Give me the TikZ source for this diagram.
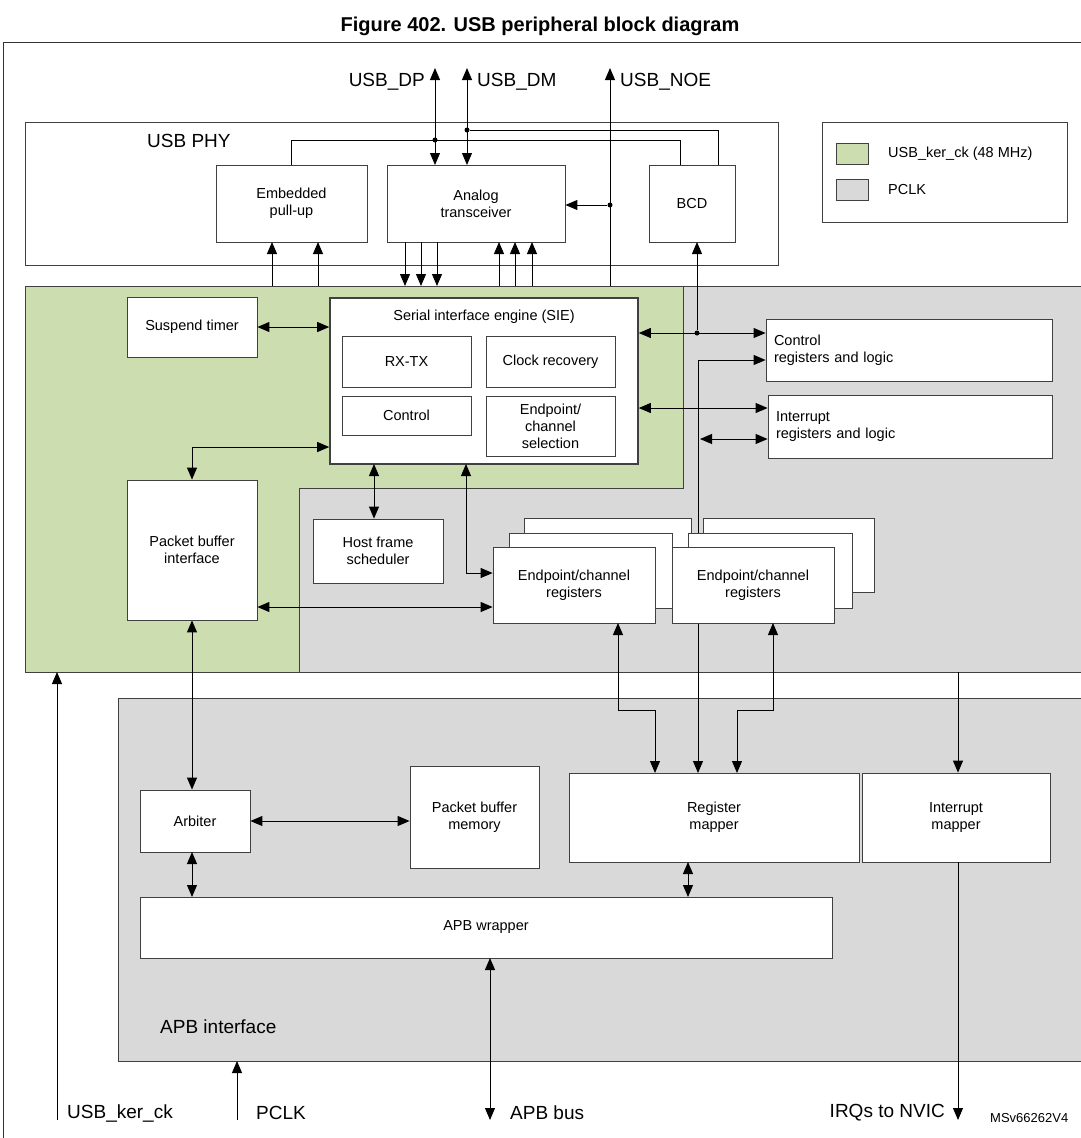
\documentclass[tikz,border=0pt]{standalone}
\usepackage{fontspec}
\setmainfont{Liberation Sans}
\usetikzlibrary{arrows.meta}
\definecolor{gr}{RGB}{204,221,176}
\definecolor{gy}{RGB}{217,217,217}
\begin{document}
\begin{tikzpicture}[x=1pt,y=-1pt,
 box/.style={draw=black!75,fill=white,line width=0.8pt,inner sep=0,font=\fontsize{14.5}{17}\selectfont,align=center},
 lbl/.style={font=\fontsize{19}{21}\selectfont,inner sep=0},
 ln/.style={line width=0.9pt},
 a/.style={ln,-{Triangle[length=12pt,width=10pt]}},
 ab/.style={ln,{Triangle[length=12pt,width=10pt]}-{Triangle[length=12pt,width=10pt]}},
 dot/.style={circle,fill=black,inner sep=0,minimum size=5pt}]
\useasboundingbox (0,0) rectangle (1081,1138);
\node[font=\bfseries\fontsize{20}{22}\selectfont] (title) at (540,26) {Figure 402. USB peripheral block diagram};
\draw[black!80,line width=0.8pt] (3,1138) -- (3,42) -- (1081,42);
% USB PHY
\node[box,minimum width=753,minimum height=143] (phy) at (401.5,193.5) {};
\node[lbl,anchor=west] (phyl) at (147,141) {USB PHY};
\node[box,minimum width=151,minimum height=77] (pu) at (291.5,203.5) {Embedded\\pull-up};
\node[box,minimum width=178,minimum height=77] (at) at (476,203.5) {Analog\\transceiver};
\node[box,minimum width=86,minimum height=77] (bcd) at (692,203.5) {BCD};
% legend
\node[box,minimum width=245,minimum height=100] (leg) at (944.5,172) {};
\node[draw=black!75,fill=gr,minimum width=32,minimum height=21,inner sep=0] (lg1) at (852,154) {};
\node[draw=black!75,fill=gy,minimum width=32,minimum height=21,inner sep=0] (lg2) at (852,190) {};
\node[anchor=west,font=\fontsize{14.5}{17}\selectfont,inner sep=0] (lt1) at (888,154) {USB\_ker\_ck (48 MHz)};
\node[anchor=west,font=\fontsize{14.5}{17}\selectfont,inner sep=0] (lt2) at (888,190) {PCLK};
% regions
\draw[black!75,fill=gy,line width=0.8pt] (25,286) rectangle (1085,672);
\draw[black!75,fill=gr,line width=0.8pt] (25,286) -- (683,286) -- (683,488) -- (299,488) -- (299,672) -- (25,672) -- cycle;
\draw[black!75,fill=gy,line width=0.8pt] (118,698) rectangle (1085,1061);
\node[lbl,anchor=west] (apbl) at (160,1027) {APB interface};
% upper blocks
\node[box,minimum width=130,minimum height=60] (sus) at (192,327) {Suspend timer};
\node[box,line width=1.6pt,minimum width=308,minimum height=166] (sie) at (484,381) {};
\node[font=\fontsize{14.5}{17}\selectfont,inner sep=0] (siel) at (484,317) {Serial interface engine (SIE)};
\node[box,minimum width=129,minimum height=51] (rx) at (406.5,361.5) {RX-TX};
\node[box,minimum width=129,minimum height=51] (clk) at (550.5,361.5) {Clock recovery};
\node[box,minimum width=129,minimum height=39] (ctl) at (406.5,415.5) {Control};
\node[box,minimum width=129,minimum height=60] (eps) at (550.5,426) {Endpoint/\\channel\\selection};
\node[box,minimum width=286,minimum height=62,align=left,text width=270] (creg) at (909,350) {Control\\registers and logic};
\node[box,minimum width=284,minimum height=63,align=left,text width=268] (ireg) at (910,426.5) {Interrupt\\registers and logic};
\node[box,minimum width=130,minimum height=140] (pbi) at (192,550) {Packet buffer\\interface};
\node[box,minimum width=130,minimum height=64] (hfs) at (378,551) {Host frame\\scheduler};
\draw[ab] (creg.west|-0,360) -- (698,360) -- (698,773);
\draw[black!75,fill=white,line width=0.8pt] (524,518) rectangle (691,592);
\draw[black!75,fill=white,line width=0.8pt] (509,533) rectangle (672,608);
\node[box,minimum width=162,minimum height=76] (ep1) at (574,585) {Endpoint/channel\\registers};
\draw[black!75,fill=white,line width=0.8pt] (703,518) rectangle (874,592);
\draw[black!75,fill=white,line width=0.8pt] (688,533) rectangle (852,608);
\node[box,minimum width=162,minimum height=76] (ep2) at (753,585) {Endpoint/channel\\registers};
% lower blocks
\node[box,minimum width=110,minimum height=62] (arb) at (195,821) {Arbiter};
\node[box,minimum width=129,minimum height=102] (pbm) at (474.5,817) {Packet buffer\\memory};
\node[box,minimum width=290,minimum height=89] (rm) at (714,817.5) {Register\\mapper};
\node[box,minimum width=188,minimum height=89] (im) at (956,817.5) {Interrupt\\mapper};
\node[box,minimum width=692,minimum height=61] (apb) at (486,927.5) {APB wrapper};
% external labels
\coordinate (dpT) at (435,68); \coordinate (dmT) at (467,68); \coordinate (noeT) at (610,68);
\node[lbl,anchor=east] (dpl) at (425,82) {USB\_DP};
\node[lbl,anchor=west] (dml) at (477,82) {USB\_DM};
\node[lbl,anchor=west] (noel) at (620,82) {USB\_NOE};
\node[lbl,anchor=west] (kl) at (67,1113) {USB\_ker\_ck};
\node[lbl,anchor=west] (pl) at (256,1113) {PCLK};
\node[lbl,anchor=west] (bl) at (510,1113) {APB bus};
\node[lbl,anchor=east] (irql) at (945,1113) {IRQs to NVIC};
\node[anchor=west,font=\fontsize{13}{15}\selectfont,inner sep=0] (ms) at (990,1118) {MSv66262V4};
\coordinate (kb) at (57,1120); \coordinate (pb) at (237,1120); \coordinate (bb) at (490,1120); \coordinate (ib) at (958,1120);
% PHY connections
\draw[ab] (dpT) -- (435,165);
\draw[ab] (dmT) -- (467,165);
\node[dot] (d1) at (435,140) {}; \node[dot] (d2) at (467,130) {};
\draw[ln] (291,165) -- (291,140) -- (680,140) -- (680,165);
\draw[ln] (d2) -- (718,130) -- (718,165);
\draw[a] (610,286) -- (noeT);
\node[dot] (d3) at (610,205) {};
\draw[a] (d3) -- (at.east|-d3);
\foreach \x in {272,318} \draw[a] (\x,286) -- (\x,242);
\foreach \x in {405,421,437} \draw[a] (\x,242) -- (\x,286);
\foreach \x in {499,515,532} \draw[a] (\x,286) -- (\x,242);
\node[dot] (d4) at (697,333) {};
\draw[a] (d4) -- (697,242);
\draw[ab] (sie.east|-d4) -- (creg.west|-d4);
\draw[ab] (sie.east|-0,408) -- (ireg.west|-0,408);
\draw[ab] (700,439) -- (ireg.west|-0,439);
\draw[ab] (sus.east) -- (sie.west|-sus.east);
\draw[ab] (sie.west|-0,447) -- (192,447) -- (pbi.north);
\draw[ab] (374,464) -- (hfs.north-|374,0);
\draw[ab] (466,464) -- (466,573) -- (ep1.west|-0,573);
\draw[ab] (pbi.east|-0,607) -- (ep1.west|-0,607);
\draw[ab] (pbi.south) -- (arb.north-|pbi.south);
\draw[ab] (arb.east) -- (pbm.west|-arb.east);
\draw[ab] (192,852) -- (192,897);
\draw[ab] (688,862) -- (688,897);
\draw[ab] (490,958) -- (bb);
\draw[ab] (618,623) -- (618,710) -- (655,710) -- (655,773);
\draw[ab] (773,623) -- (773,710) -- (737,710) -- (737,773);
\draw[a] (958,672) -- (im.north-|958,0);
\draw[a] (im.south-|958,0) -- (ib);
\draw[a] (kb) -- (57,672);
\draw[a] (pb) -- (237,1061);
\end{tikzpicture}
\end{document}
